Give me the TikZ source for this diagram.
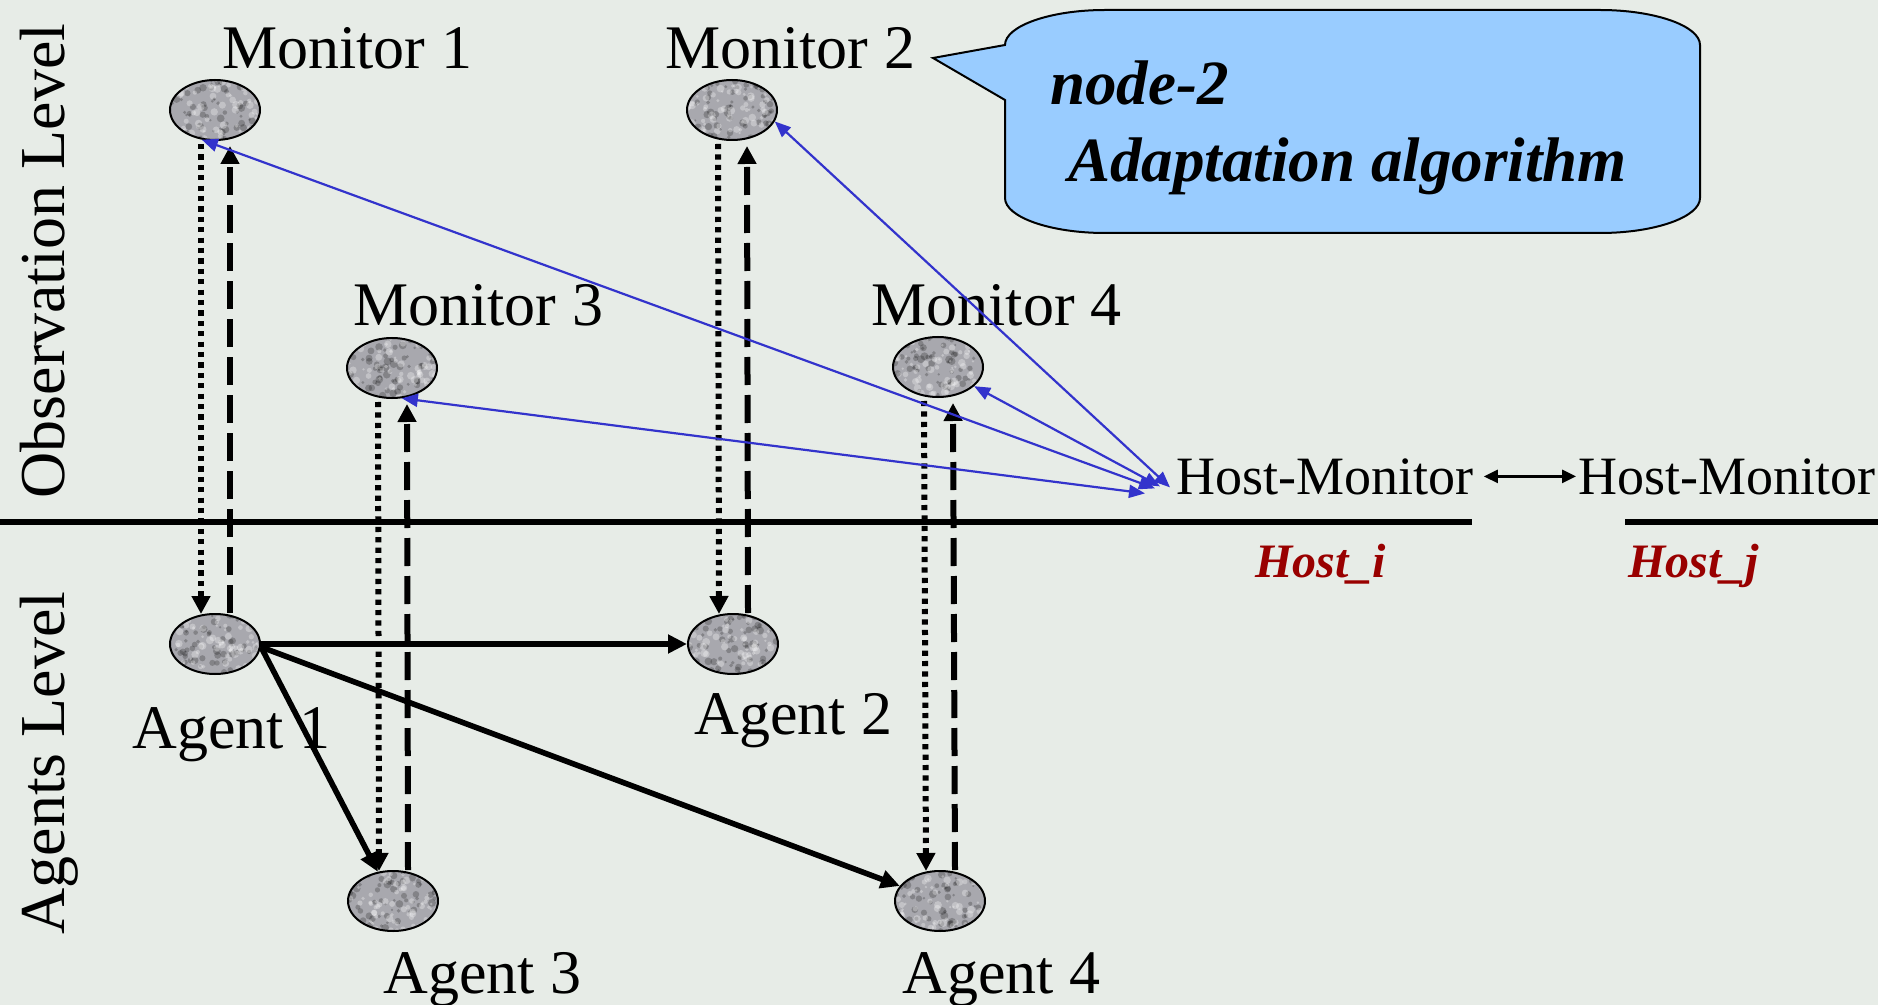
\documentclass[tikz,border=0pt]{standalone}
\usepackage{fontspec}
\setmainfont{Liberation Serif}
\usetikzlibrary{arrows.meta,shapes.geometric,calc}
\definecolor{bg}{RGB}{231,236,231}
\definecolor{blobgray}{RGB}{168,168,174}
\definecolor{linkblue}{RGB}{51,51,204}
\definecolor{calloutblue}{RGB}{153,204,255}
\definecolor{hostred}{RGB}{153,0,0}
\begin{document}
\begin{tikzpicture}[x=0.5pt,y=-0.5pt,
  blob/.style={ellipse, draw=black, line width=1pt, minimum width=45pt,
    minimum height=30pt, inner sep=0pt, fill=blobgray,
    path picture={
      \foreach \k in {1,...,70}{
        \pgfmathsetmacro{\px}{rand*22}
        \pgfmathsetmacro{\py}{rand*15}
        \pgfmathsetmacro{\pr}{0.6+1.4*rnd}
        \fill[black,opacity=0.22] ([shift={(\px pt,\py pt)}]path picture bounding box.center) circle[radius=\pr pt];
      }
      \foreach \k in {1,...,70}{
        \pgfmathsetmacro{\px}{rand*22}
        \pgfmathsetmacro{\py}{rand*15}
        \pgfmathsetmacro{\pr}{0.6+1.4*rnd}
        \fill[white,opacity=0.3] ([shift={(\px pt,\py pt)}]path picture bounding box.center) circle[radius=\pr pt];
      }
    }},
  lbl/.style={anchor=base west, inner sep=0pt, font=\fontsize{31}{36}\selectfont},
  axislbl/.style={rotate=90, anchor=base, inner sep=0pt, font=\fontsize{32}{38}\selectfont},
  hmlbl/.style={anchor=base west, inner sep=0pt, font=\fontsize{27}{32}\selectfont},
  hostlbl/.style={anchor=base west, inner sep=0pt, text=hostred, font=\fontsize{24}{28}\selectfont\bfseries\itshape},
  calltext/.style={anchor=base west, inner sep=0pt, font=\fontsize{31.5}{36}\selectfont\bfseries\itshape},
  solidarrow/.style={line width=2.8pt, -{Triangle[length=9.5pt,width=9pt]}},
  dotarrow/.style={line width=3pt, dash pattern=on 2.6pt off 2.6pt, -{Triangle[length=9pt,width=9pt]}},
  dasharrow/.style={line width=3pt, dash pattern=on 14pt off 5pt, -{Triangle[length=9pt,width=9pt]}},
  bluearrow/.style={linkblue, line width=1.1pt, {Triangle[length=8pt,width=6.5pt]}-{Triangle[length=8pt,width=6.5pt]}},
  hostarrow/.style={line width=1.3pt, {Triangle[length=7pt,width=6.5pt]}-{Triangle[length=7pt,width=6.5pt]}},
  sepline/.style={line width=3pt}
]
\pgfmathsetseed{17}
\fill[bg] (0,0) rectangle (1878,1005);
\useasboundingbox (0,0) rectangle (1878,1005);

% level separator
\draw[sepline] (0,522) -- (1472,522);
\draw[sepline] (1625,522) -- (1878,522);

% callout
\draw[line width=1pt, fill=calloutblue] (1005,45) -- (933,58) -- (1005,100) -- (1005,198)
  .. controls (1005,217) and (1050,233) .. (1105,233) -- (1600,233)
  .. controls (1655,233) and (1700,217) .. (1700,198) -- (1700,45)
  .. controls (1700,26) and (1655,10) .. (1600,10) -- (1105,10)
  .. controls (1050,10) and (1005,26) .. (1005,45) -- cycle;
\node[calltext] (cal1) at (1050,105) {node-2};
\node[calltext] (cal2) at (1068,182) {Adaptation algorithm};

% axis labels
\node[axislbl] (obs) at (64,261) {Observation Level};
\node[axislbl] (agl) at (64,763) {Agents Level};

% monitors and agents
\node[blob] (m1) at (215,110) {};
\node[blob] (m2) at (732,110) {};
\node[blob] (m3) at (392,368) {};
\node[blob] (m4) at (938,367) {};
\node[blob] (a1) at (215,644) {};
\node[blob] (a2) at (733,644) {};
\node[blob] (a3) at (393,901) {};
\node[blob] (a4) at (940,901) {};

\node[lbl] (m1l) at (222,69) {Monitor 1};
\node[lbl] (m2l) at (665,69) {Monitor 2};
\node[lbl] (m3l) at (353,326) {Monitor 3};
\node[lbl] (m4l) at (871,326) {Monitor 4};
\node[lbl] (a1l) at (132,748) {Agent 1};
\node[lbl] (a2l) at (694,734) {Agent 2};
\node[lbl] (a3l) at (383,993) {Agent 3};
\node[lbl] (a4l) at (902,993) {Agent 4};

% host monitors
\node[hmlbl] (hm1) at (1176,494) {Host-Monitor};
\node[hmlbl] (hm2) at (1578,494) {Host-Monitor};
\node[hostlbl] (hi) at (1255,577) {Host\_i};
\node[hostlbl] (hj) at (1628,577) {Host\_j};
\draw[hostarrow, shorten <=5pt, shorten >=1pt] (hm1.east) -- (hm2.west);

% vertical observation links
\foreach \m/\a in {m1/a1, m2/a2, m3/a3, m4/a4}{
  \draw[dotarrow] ($(\m.south)+(-14,3)$) -- ($(\a.north)+(-14,1)$);
  \draw[dasharrow] ($(\a.north)+(15,0)$) -- ($(\m.south)+(15,5)$);
}

% agent links
\draw[solidarrow] (a1.east) -- (a2.west);
\draw[solidarrow] ($(a1.east)+(0,3)$) -- (a3);
\draw[solidarrow] ($(a1.east)+(0,3)$) -- (a4);

% host-monitor links
\draw[bluearrow] (m1.-114) -- ($(hm1.west)+(-21,12)$);
\draw[bluearrow] (m2.-15) -- ($(hm1.west)+(-6,11)$);
\draw[bluearrow] (m3.-72) -- ($(hm1.west)+(-31,17)$);
\draw[bluearrow] (m4.-28) -- ($(hm1.west)+(-16,10)$);
\end{tikzpicture}
\end{document}
